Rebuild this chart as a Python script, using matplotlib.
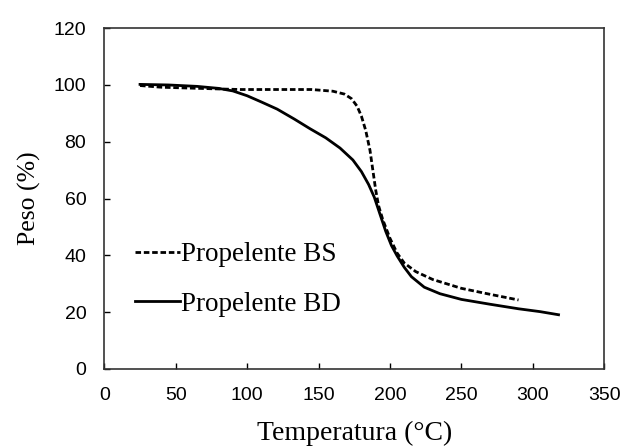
import matplotlib
matplotlib.use("Agg")
import matplotlib.pyplot as plt

# Curve data (temperature in C, weight in %)
temp_bs = [25, 40, 60, 80, 95, 120, 145, 160, 168, 173, 177, 180, 183, 186,
           188, 190, 192, 195, 200, 205, 210, 218, 230, 250, 270, 290]
peso_bs = [99.8, 99.2, 98.9, 98.6, 98.4, 98.4, 98.4, 97.8, 96.8, 95.2, 92.5,
           89.0, 84.0, 77.0, 70.0, 63.0, 57.5, 52.5, 46.0, 40.8, 37.3, 34.3,
           31.5, 28.4, 26.3, 24.3]

temp_bd = [25, 45, 65, 80, 90, 100, 110, 121, 133, 144, 155, 165, 174, 180,
           185, 189, 193, 197, 201, 205, 210, 215, 224, 235, 250, 270, 290,
           305, 318]
peso_bd = [100.2, 100.0, 99.5, 98.8, 97.9, 96.2, 94.0, 91.5, 88.0, 84.6,
           81.4, 77.8, 73.6, 69.5, 65.0, 60.5, 54.5, 48.5, 43.5, 39.8, 35.8,
           32.5, 28.8, 26.5, 24.5, 22.8, 21.2, 20.2, 19.1]

xticks = [0, 50, 100, 150, 200, 250, 300, 350]
yticks = [0, 20, 40, 60, 80, 100, 120]

serif = ["Liberation Serif", "DejaVu Serif"]
sans = ["Liberation Sans", "DejaVu Sans"]

fig = plt.figure(figsize=(6.21, 4.47), dpi=100)
ax = fig.add_axes([0.168, 0.1745, 0.805, 0.7625])

ax.plot(temp_bs, peso_bs, color="black", lw=2.0, dashes=(2.0, 1.0),
        label="Propelente BS")
ax.plot(temp_bd, peso_bd, color="black", lw=2.0, label="Propelente BD")

ax.set_xlim(0, 350)
ax.set_ylim(0, 120)
ax.set_xticks(xticks)
ax.set_yticks(yticks)
ax.tick_params(direction="in", length=4, width=1, labelsize=14, pad=13)
for lab in ax.get_xticklabels() + ax.get_yticklabels():
    lab.set_family(sans)
for sp in ax.spines.values():
    sp.set_linewidth(1.2)
    sp.set_color("#333333")

ax.set_xlabel("Temperatura (°C)", family=serif, fontsize=20, labelpad=12)
ax.set_ylabel("Peso (%)", family=serif, fontsize=18.5, labelpad=9)

ax.legend(loc="upper left", bbox_to_anchor=(0.061, 0.372), frameon=False,
          borderpad=0, borderaxespad=0, handlelength=1.67, handletextpad=0.05,
          labelspacing=0.9, prop={"family": serif, "size": 19.5})

fig.savefig("out.png", dpi=100)
